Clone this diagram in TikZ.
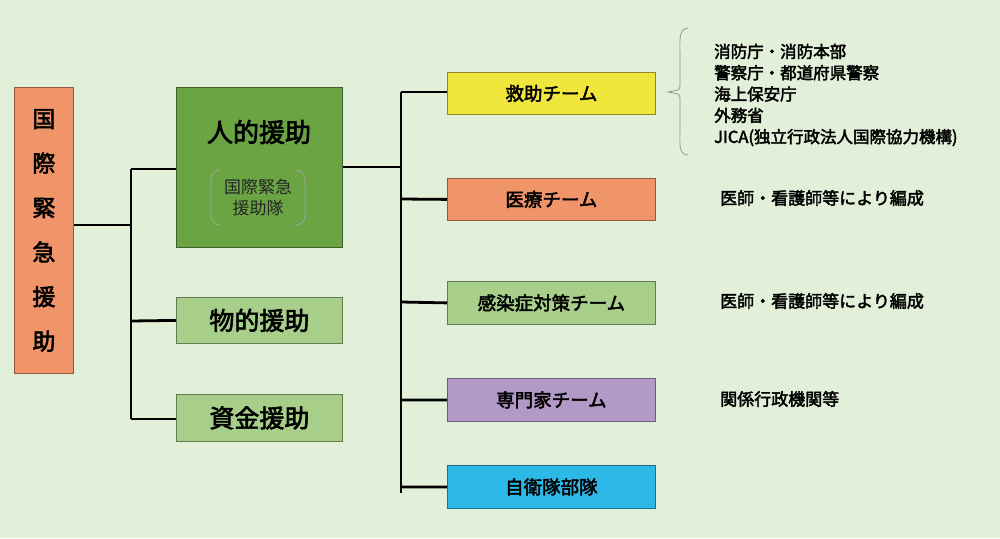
\documentclass[tikz,border=0pt]{standalone}
\usepackage{fontspec}
\setmainfont{Noto Sans CJK JP}[AutoFakeBold=2.5]
\definecolor{bg}{HTML}{E2EFD9}
\definecolor{org}{HTML}{F0956A}
\definecolor{dg}{HTML}{6AA443}
\definecolor{lg}{HTML}{A8CF8A}
\definecolor{yl}{HTML}{F0E63C}
\definecolor{pp}{HTML}{B399C8}
\definecolor{cy}{HTML}{2DB9E8}
\begin{document}
\begin{tikzpicture}[x=1pt,y=-1pt,
  box/.style={draw=#1!60!black,line width=0.8pt,anchor=north west,inner sep=0pt,font=\fontsize{18.5}{20}\selectfont\bfseries},
  ln/.style={line width=2.8pt,black},
  note/.style={anchor=west,font=\fontsize{17}{19}\selectfont\bfseries,inner sep=0pt}]
\fill[bg] (0,0) rectangle (1000,538);
\useasboundingbox (0,0) rectangle (1000,538);
\node[box=org,fill=org,minimum width=59pt,minimum height=286pt,align=center,font=\fontsize{23}{44.5}\selectfont\bfseries] (root) at (14,87) {国\\際\\緊\\急\\援\\助};
\node[box=dg,fill=dg,minimum width=166pt,minimum height=160pt] (jin) at (176,87) {};
\node[font=\fontsize{26}{28}\selectfont\bfseries] (jint) at (259,132) {人的援助};
\node[align=center,font=\fontsize{17}{21}\selectfont,text=black!85] (jdc) at (258,198) {国際緊急\\援助隊};
\draw[black!35,line width=0.7pt] (220,170) arc[start angle=90,end angle=180,radius=9pt] -- (211,216) arc[start angle=180,end angle=270,radius=9pt];
\draw[black!35,line width=0.7pt] (296,170) arc[start angle=90,end angle=0,radius=9pt] -- (305,216) arc[start angle=0,end angle=-90,radius=9pt];
\node[box=lg,fill=lg,minimum width=166pt,minimum height=46pt,font=\fontsize{25}{27}\selectfont\bfseries] (mono) at (176,297) {物的援助};
\node[box=lg,fill=lg,minimum width=166pt,minimum height=47pt,font=\fontsize{25}{27}\selectfont\bfseries] (shikin) at (176,394) {資金援助};
\node[box=yl,fill=yl,minimum width=208pt,minimum height=42pt] (kyu) at (447,72) {救助チーム};
\node[box=org,fill=org,minimum width=208pt,minimum height=42pt] (iryo) at (447,178) {医療チーム};
\node[box=lg,fill=lg,minimum width=208pt,minimum height=43pt] (kan) at (447,281) {感染症対策チーム};
\node[box=pp,fill=pp,minimum width=208pt,minimum height=43pt] (sen) at (447,378) {専門家チーム};
\node[box=cy,fill=cy,minimum width=208pt,minimum height=43pt] (jiei) at (447,465) {自衛隊部隊};
\coordinate (j1) at (131,225); \coordinate (j2) at (401,167);
\draw[ln] (root.east|-j1) -- (j1);
\draw[ln] (131,169) -- (131,419);
\draw[ln] (131,169) -- (jin.west|-0,169);
\draw[ln] (131,321) -- (mono.west);
\draw[ln] (131,419) -- (shikin.west|-0,419);
\draw[ln] (jin.east|-j2) -- (j2);
\draw[ln] (401,92) -- (401,493);
\draw[ln] (401,92) -- (kyu.west|-0,92);
\draw[ln] (401,199) -- (iryo.west);
\draw[ln] (401,302) -- (kan.west);
\draw[ln] (401,400) -- (sen.west);
\draw[ln] (401,487) -- (jiei.west);
\draw[black!45,line width=0.7pt] (688,28) .. controls (678,29) and (680,40) .. (680,60) -- (680,84) .. controls (680,90) .. (668,92) .. controls (680,94) .. (680,100) -- (680,125) .. controls (680,145) and (678,154) .. (688,155);
\node[note,align=left,font=\fontsize{16.5}{21.3}\selectfont\bfseries] (list) at (714,95) {消防庁・消防本部\\警察庁・都道府県警察\\海上保安庁\\外務省\\JICA(独立行政法人国際協力機構)};
\node[note] (n1) at (720,198) {医師・看護師等により編成};
\node[note] (n2) at (720,301) {医師・看護師等により編成};
\node[note] (n3) at (720,399) {関係行政機関等};
\end{tikzpicture}
\end{document}
